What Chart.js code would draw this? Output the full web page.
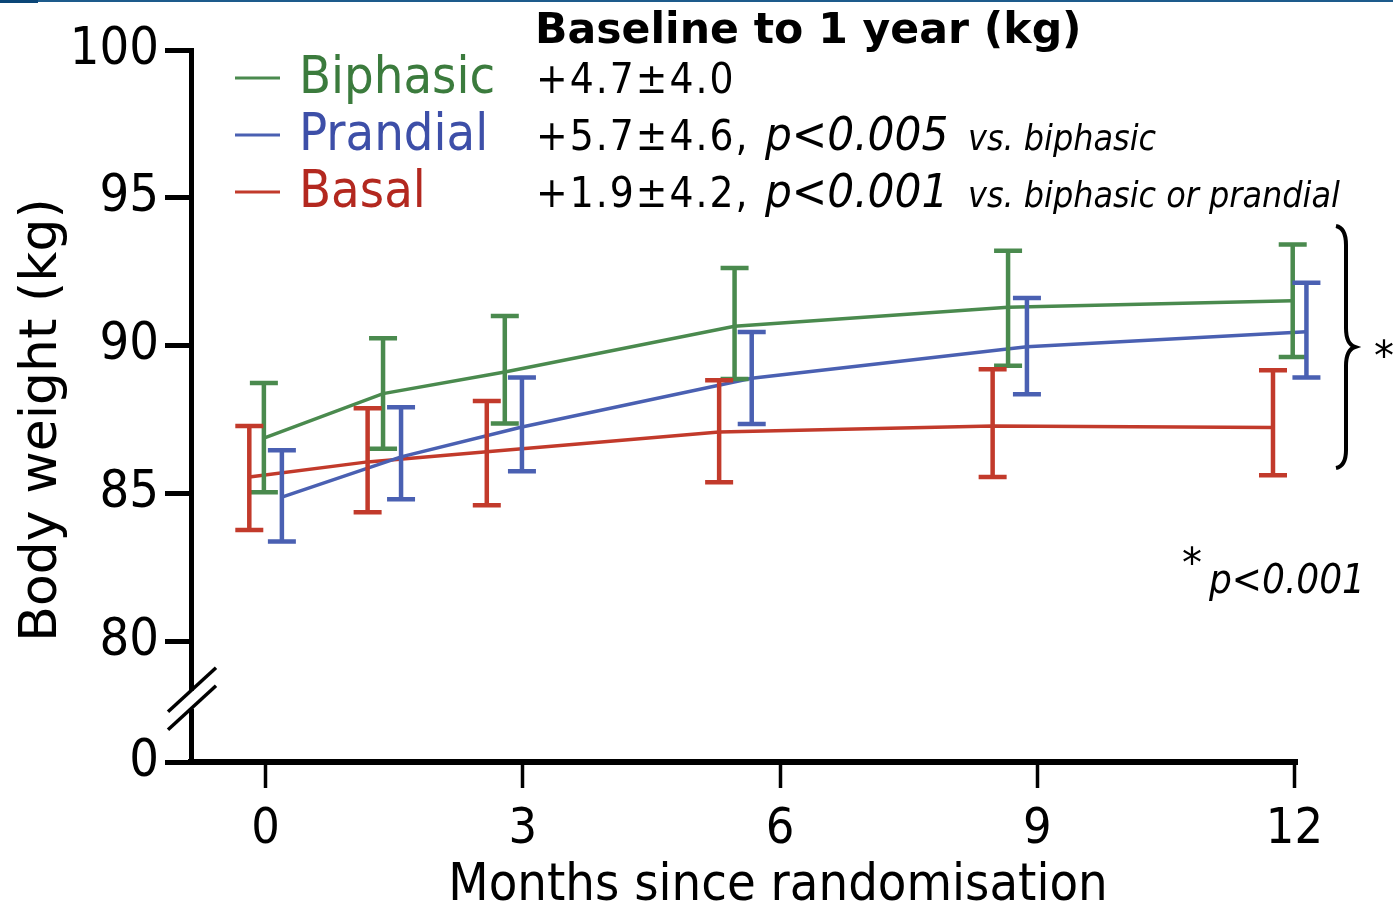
<!DOCTYPE html>
<html>
<head>
<meta charset="utf-8">
<script src="https://cdn.jsdelivr.net/npm/chart.js"></script>
<style>
  html, body { margin: 0; padding: 0; background: #fff; }
</style>
</head>
<body>
<canvas id="canvas" width="1393" height="906"></canvas>
<script>
// months since randomisation (groups are drawn slightly offset, as in the figure)
const biphasicX = [-0.02, 1.37, 2.79, 5.47, 8.66, 11.98];
const biphasicMean = [86.87, 88.38, 89.11, 90.66, 91.30, 91.52];
const biphasicLow = [85.04, 86.51, 87.37, 88.87, 89.32, 89.62];
const biphasicHigh = [88.74, 90.25, 91.0, 92.63, 93.21, 93.42];

const prandialX = [0.19, 1.58, 2.99, 5.67, 8.88, 12.14];
const prandialMean = [84.88, 86.24, 87.25, 88.90, 89.96, 90.47];
const prandialLow = [83.38, 84.81, 85.75, 87.35, 88.36, 88.92];
const prandialHigh = [86.46, 87.92, 88.92, 90.46, 91.61, 92.13];

const basalX = [-0.19, 1.19, 2.58, 5.29, 8.48, 11.75];
const basalMean = [85.56, 86.07, 86.41, 87.08, 87.28, 87.23];
const basalLow = [83.77, 84.37, 84.60, 85.38, 85.56, 85.62];
const basalHigh = [87.28, 87.88, 88.13, 88.83, 89.20, 89.17];

const xTicks = [0, 3, 6, 9, 12];
const yTicks = [80, 85, 90, 95, 100];
const yBottom = 75.92; // shown as "0" below the axis break

const GREEN = "#4a8a4e";
const BLUE = "#4a60b2";
const RED = "#c23a2b";

const toPoints = (xs, ys) => xs.map((x, i) => ({ x: x, y: ys[i] }));

const errorBars = {
  id: "errorBars",
  afterDatasetsDraw(chart) {
    const ctx = chart.ctx;
    const xs = chart.scales.x;
    const ys = chart.scales.y;
    chart.data.datasets.forEach((ds) => {
      ctx.save();
      ctx.strokeStyle = ds.borderColor;
      ctx.lineWidth = 4.5;
      ds.data.forEach((p, i) => {
        const px = xs.getPixelForValue(p.x);
        const top = ys.getPixelForValue(ds.errHigh[i]);
        const bot = ys.getPixelForValue(ds.errLow[i]);
        ctx.beginPath();
        ctx.moveTo(px, top);
        ctx.lineTo(px, bot);
        ctx.moveTo(px - 14, top);
        ctx.lineTo(px + 14, top);
        ctx.moveTo(px - 14, bot);
        ctx.lineTo(px + 14, bot);
        ctx.stroke();
      });
      ctx.restore();
    });
  },
};

const extras = {
  id: "extras",
  afterDraw(chart) {
    const ctx = chart.ctx;
    const ys = chart.scales.y;
    const axisX = chart.chartArea.left;
    ctx.save();

    // slide header rule
    ctx.fillStyle = "#1d5b8c";
    ctx.fillRect(0, 0, 1393, 2);
    ctx.fillStyle = "#0b4677";
    ctx.fillRect(0, 0, 38, 3);

    // axis break
    const mid = (ys.getPixelForValue(80) + ys.bottom) / 2 - 2;
    ctx.fillStyle = "#fff";
    ctx.fillRect(axisX - 6, mid - 9, 12, 18);
    ctx.strokeStyle = "#000";
    ctx.lineWidth = 3.5;
    [-9, 9].forEach((d) => {
      ctx.beginPath();
      ctx.moveTo(axisX - 23, mid + d + 21);
      ctx.lineTo(axisX + 25, mid + d - 23);
      ctx.stroke();
    });

    // axis titles
    ctx.fillStyle = "#000";
    ctx.textAlign = "center";
    ctx.textBaseline = "alphabetic";
    ctx.font = '52px "DejaVu Sans Condensed"';
    ctx.fillText("Months since randomisation", 778, 900);
    ctx.save();
    ctx.translate(56, 420);
    ctx.rotate(-Math.PI / 2);
    ctx.font = '52px "DejaVu Sans"';
    ctx.fillText("Body weight (kg)", 0, 0);
    ctx.restore();
    ctx.textAlign = "left";

    // legend
    const legend = [
      ["Biphasic", GREEN, "#3b7b3d"],
      ["Prandial", BLUE, "#3d4fa8"],
      ["Basal", RED, "#b3281f"],
    ];
    legend.forEach((l, i) => {
      const y = 78 + i * 57;
      ctx.strokeStyle = l[1];
      ctx.lineWidth = 3;
      ctx.beginPath();
      ctx.moveTo(235, y);
      ctx.lineTo(280, y);
      ctx.stroke();
      ctx.fillStyle = l[2];
      ctx.font = '52px "DejaVu Sans Condensed"';
      ctx.fillText(l[0], 299, y + 15);
    });

    // header and per-group changes
    ctx.fillStyle = "#000";
    ctx.font = 'bold 42.6px "DejaVu Sans"';
    ctx.fillText("Baseline to 1 year (kg)", 535, 43);

    const changes = ["+4.7\u00b14.0", "+5.7\u00b14.6,", "+1.9\u00b14.2,"];
    const pvals = ["", "p<0.005", "p<0.001"];
    const notes = ["", "vs. biphasic", "vs. biphasic or prandial"];
    changes.forEach((c, i) => {
      const y = 93 + i * 57;
      ctx.font = '42px "DejaVu Sans Condensed"';
      ctx.letterSpacing = "2px";
      ctx.fillText(c, 536, y);
      ctx.letterSpacing = "0px";
      ctx.font = 'italic 47px "DejaVu Sans Condensed"';
      ctx.fillText(pvals[i], 765, y);
      ctx.font = 'italic 35.5px "DejaVu Sans Condensed"';
      ctx.fillText(notes[i], 968, y);
    });

    // brace and star
    ctx.strokeStyle = "#000";
    ctx.lineWidth = 4;
    ctx.beginPath();
    ctx.moveTo(1336, 226);
    ctx.quadraticCurveTo(1346, 228, 1346, 245);
    ctx.lineTo(1346, 328);
    ctx.quadraticCurveTo(1346, 344, 1355, 347);
    ctx.quadraticCurveTo(1346, 350, 1346, 366);
    ctx.lineTo(1346, 450);
    ctx.quadraticCurveTo(1346, 466, 1336, 468);
    ctx.stroke();
    ctx.font = '40px "DejaVu Sans"';
    ctx.fillText("*", 1374, 370);

    ctx.fillText("*", 1182, 577);
    ctx.font = 'italic 40px "DejaVu Sans Condensed"';
    ctx.fillText("p<0.001", 1209, 593);
    ctx.restore();
  },
};

const ctx = document.getElementById("canvas").getContext("2d");

new Chart(ctx, {
  type: "line",
  data: {
    datasets: [
      {
        label: "Biphasic",
        data: toPoints(biphasicX, biphasicMean),
        errLow: biphasicLow,
        errHigh: biphasicHigh,
        borderColor: GREEN,
        borderWidth: 3.5,
        pointRadius: 0,
        tension: 0,
        clip: false,
      },
      {
        label: "Prandial",
        data: toPoints(prandialX, prandialMean),
        errLow: prandialLow,
        errHigh: prandialHigh,
        borderColor: BLUE,
        borderWidth: 3.5,
        pointRadius: 0,
        tension: 0,
        clip: false,
      },
      {
        label: "Basal",
        data: toPoints(basalX, basalMean),
        errLow: basalLow,
        errHigh: basalHigh,
        borderColor: RED,
        borderWidth: 3.5,
        pointRadius: 0,
        tension: 0,
        clip: false,
      },
    ],
  },
  options: {
    responsive: false,
    animation: false,
    devicePixelRatio: 1,
    layout: { padding: { top: 50, right: 96, left: 0, bottom: 0 } },
    plugins: {
      legend: { display: false },
      tooltip: { enabled: false },
    },
    scales: {
      x: {
        type: "linear",
        min: -0.87,
        max: 12.03,
        afterBuildTicks: (s) => {
          s.ticks = xTicks.map((v) => ({ value: v }));
        },
        afterFit: (s) => {
          s.height = 144;
        },
        border: { display: true, color: "#000", width: 6 },
        grid: {
          drawOnChartArea: false,
          drawTicks: true,
          tickLength: 26,
          tickWidth: 3.5,
          tickColor: "#000",
        },
        ticks: {
          autoSkip: false,
          maxRotation: 0,
          padding: 12,
          color: "#000",
          font: { family: "DejaVu Sans Condensed", size: 50 },
        },
      },
      y: {
        type: "linear",
        min: yBottom,
        max: 100,
        afterBuildTicks: (s) => {
          s.ticks = [yBottom].concat(yTicks).map((v) => ({ value: v }));
        },
        afterFit: (s) => {
          s.width = 191;
        },
        border: { display: true, color: "#000", width: 5 },
        grid: {
          drawOnChartArea: false,
          drawTicks: true,
          tickLength: 26,
          tickWidth: 5,
          tickColor: "#000",
        },
        ticks: {
          autoSkip: false,
          padding: 6,
          color: "#000",
          font: { family: "DejaVu Sans Condensed", size: 52 },
          callback: (v) => (v < 80 ? "0" : v),
        },
      },
    },
  },
  plugins: [errorBars, extras],
});
</script>
</body>
</html>
